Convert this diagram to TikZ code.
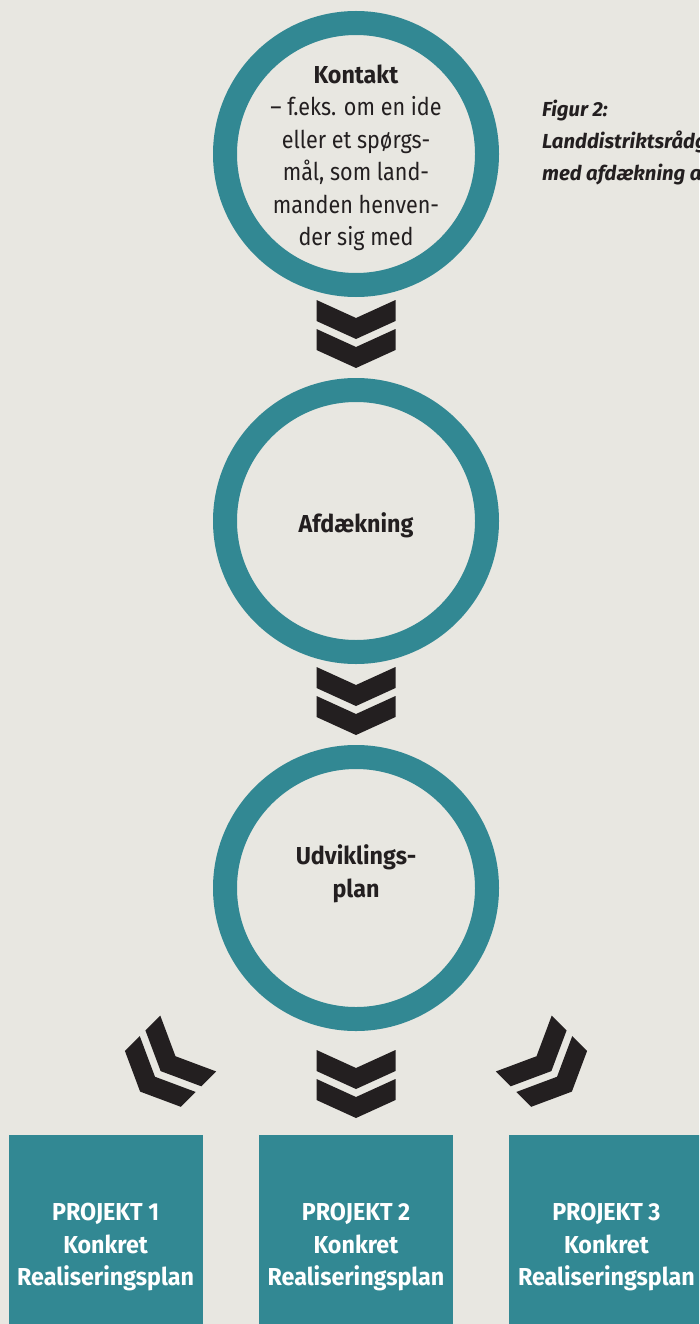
\documentclass[tikz,border=0pt]{standalone}
\usepackage{fontspec}
\setmainfont{Fira Sans}[FakeStretch=0.88,BoldFeatures={FakeStretch=0.95}]
\newfontfamily\figfont{Fira Sans}
\usetikzlibrary{positioning,calc}

\definecolor{paper}{RGB}{232,231,225}
\definecolor{ringteal}{RGB}{50,136,147}
\definecolor{ink}{RGB}{35,31,32}

\newcommand\diagfont{\fontsize{24.5}{32.5}\selectfont}

\tikzset{
  ring/.style={circle,draw=ringteal,line width=24pt,minimum size=262pt,inner sep=0pt},
  ringtext/.style={align=center,text=ink,font=\diagfont},
  projbox/.style={fill=ringteal,minimum width=194pt,minimum height=224pt,
    inner sep=0pt,align=center,text=white,font=\bfseries\diagfont},
  pics/chevrons/.style={code={
    \foreach \off in {0,29}{
      \fill[ink] (-39.5,\off) -- (0,\off+18) -- (39.5,\off) -- (39.5,\off+21)
        -- (0,\off+39) -- (-39.5,\off+21) -- cycle;
    }
  }},
}

\begin{document}
\begin{tikzpicture}[x=1pt,y=-1pt]
\fill[paper] (0,0) rectangle (699,1324);
\useasboundingbox (0,0) rectangle (699,1324);
\clip (0,0) rectangle (699,1324);

% the three steps
\node[ring] (kontakt) at (356,154) {};
\node[ring,below=81pt of kontakt] (afdaekning) {};
\node[ring,below=81pt of afdaekning] (udvikling) {};

\node[ringtext] (kontakttekst) at ($(kontakt)+(0,4)$)
  {\textbf{Kontakt}\\– f.eks. om en ide\\eller et spørgs-\\mål, som land-\\manden henven-\\der sig med};
\node[ringtext,font=\bfseries\diagfont] (afdaekningtekst) at ($(afdaekning)+(0,4)$) {Afdækning};
\node[ringtext,font=\bfseries\diagfont] (udviklingtekst) at ($(udvikling)+(0,-14)$) {Udviklings-\\plan};

% the projects
\node[projbox,below=104pt of udvikling] (projekt2) {PROJEKT 2\\Konkret\\Realiseringsplan};
\node[projbox,left=56pt of projekt2] (projekt1) {PROJEKT 1\\Konkret\\Realiseringsplan};
\node[projbox,right=56pt of projekt2] (projekt3) {PROJEKT 3\\Konkret\\Realiseringsplan};

% chevrons
\pic at ($(kontakt.south)+(0,3)$) {chevrons};
\pic at ($(afdaekning.south)+(0,3)$) {chevrons};
\pic at ($(udvikling.south)+(0,19)$) {chevrons};
\pic[rotate=-45] at ($(udvikling.south)+(-167.8,12.5)$) {chevrons};
\pic[rotate=45] at ($(udvikling.south)+(167.8,12.5)$) {chevrons};

% caption
\node[anchor=north west,inner sep=0pt,align=left,text=ink,
  font=\figfont\bfseries\itshape\fontsize{20.3}{32}\selectfont] (figurtekst) at (542,100)
  {Figur 2:\\Landdistriktsrådgivning\\med afdækning af};
\end{tikzpicture}
\end{document}
